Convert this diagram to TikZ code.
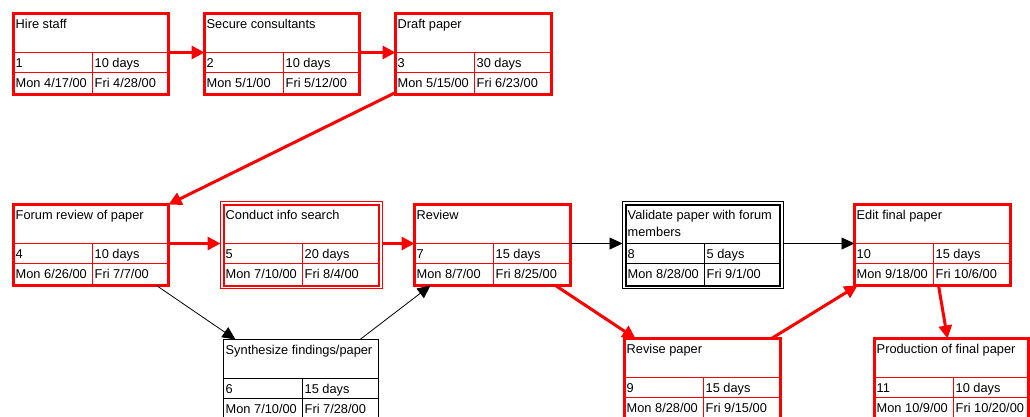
\documentclass[tikz,border=0pt]{standalone}
\usepackage{fontspec}
\setmainfont{Liberation Sans}
\usetikzlibrary{calc,arrows.meta}

\tikzset{
  crit/.style={draw=red, line width=3pt},
  critline/.style={draw=red, line width=1pt},
  critextra/.style={draw=none},
  critdbl/.style={draw=red, line width=2pt},
  critdblline/.style={draw=red, line width=1pt},
  critdblextra/.style={draw=red, line width=1pt},
  norm/.style={draw=black, line width=1pt},
  normline/.style={draw=black, line width=0.8pt},
  normextra/.style={draw=none},
  normdbl/.style={draw=black, line width=2pt},
  normdblline/.style={draw=black, line width=1pt},
  normdblextra/.style={draw=black, line width=1pt},
  txt/.style={inner sep=0pt, anchor=base west, font=\fontsize{12.8}{17}\selectfont, align=left},
  critarrow/.style={draw=red, line width=3pt, -{Triangle[length=13pt,width=13pt]}},
  normarrow/.style={draw=black, line width=0.8pt, -{Triangle[length=13pt,width=12pt]}},
}

% #1 name, #2 top-left (x,y), #3 width, #4 box style, #5 title, #6 id, #7 duration, #8 start, #9 finish
\newcommand\taskbox[9]{%
  \node[#4, minimum width=#3, minimum height=81, outer sep=0pt, inner sep=0pt, anchor=north west] (#1) at #2 {};
  \draw[#4extra] ($(#1.north west)+(-3,-3)$) rectangle ($(#1.south east)+(3,3)$);
  \coordinate (#1-l) at ($(#1.north west)+(0,39)$);
  \coordinate (#1-r) at ($(#1.north east)+(0,39)$);
  \draw[#4line] (#1-l) -- (#1-r);
  \draw[#4line] ($(#1.north west)+(0,59)$) -- ($(#1.north east)+(0,59)$);
  \draw[#4line] ($(#1.north west)+(79,39)$) -- ($(#1.south west)+(79,0)$);
  \node[txt, anchor=north west] (#1-t) at ($(#1.north west)+(2,6)$) {#5};
  \node[txt] (#1-i) at ($(#1.north west)+(2,54)$) {#6};
  \node[txt] (#1-d) at ($(#1.north west)+(81,54)$) {#7};
  \node[txt] (#1-s) at ($(#1.north west)+(2,74)$) {#8};
  \node[txt] (#1-f) at ($(#1.north west)+(81,74)$) {#9};
}

\begin{document}
\begin{tikzpicture}[x=1pt, y=-1pt]
\path[use as bounding box, clip] (0,0) rectangle (1030,417);
\fill[white] (0,0) rectangle (1030,417);

\taskbox{n1}{(13.5,13.5)}{155}{crit}{Hire staff}{1}{10 days}{Mon 4/17/00}{Fri 4/28/00}
\taskbox{n2}{(204.5,13.5)}{155}{crit}{Secure consultants}{2}{10 days}{Mon 5/1/00}{Fri 5/12/00}
\taskbox{n3}{(395.5,13.5)}{156}{crit}{Draft paper}{3}{30 days}{Mon 5/15/00}{Fri 6/23/00}

\taskbox{n4}{(13.5,204.5)}{155}{crit}{Forum review of paper}{4}{10 days}{Mon 6/26/00}{Fri 7/7/00}
\taskbox{n5}{(223.5,204.5)}{155.5}{critdbl}{Conduct info search}{5}{20 days}{Mon 7/10/00}{Fri 8/4/00}
\taskbox{n7}{(414.5,204.5)}{156}{crit}{Review}{7}{15 days}{Mon 8/7/00}{Fri 8/25/00}
\taskbox{n8}{(625.5,204.5)}{154.5}{normdbl}{Validate paper with forum\\members}{8}{5 days}{Mon 8/28/00}{Fri 9/1/00}
\taskbox{n10}{(854.5,204.5)}{156}{crit}{Edit final paper}{10}{15 days}{Mon 9/18/00}{Fri 10/6/00}

\taskbox{n6}{(223.5,339.5)}{154.5}{norm}{Synthesize findings/paper}{6}{15 days}{Mon 7/10/00}{Fri 7/28/00}
\taskbox{n9}{(624.5,338.5)}{156}{crit}{Revise paper}{9}{15 days}{Mon 8/28/00}{Fri 9/15/00}
\taskbox{n11}{(874.5,338.5)}{154}{crit}{Production of final paper}{11}{10 days}{Mon 10/9/00}{Fri 10/20/00}

\draw[critarrow] (n1-r) -- (n2-l);
\draw[critarrow] (n2-r) -- (n3-l);
\draw[critarrow] ($(n3.south west)+(0,-2)$) -- (n4.north east);
\draw[critarrow] (n4-r) -- ($(n5-l)+(-3,0)$);
\draw[critarrow] ($(n5-r)+(3,0)$) -- (n7-l);
\draw[normarrow] ($(n4.south east)+(-12,0)$) -- ($(n6.north west)+(12,0)$);
\draw[normarrow] ($(n6.north east)+(-18,0)$) -- ($(n7.south west)+(16,0)$);
\draw[normarrow] (n7-r) -- ($(n8-l)+(-3,0)$);
\draw[critarrow] ($(n7.south east)+(-15,0)$) -- ($(n9.north west)+(11,0)$);
\draw[normarrow] ($(n8-r)+(3,0)$) -- (n10-l);
\draw[critarrow] ($(n9.north east)+(-9,0)$) -- ($(n10.south west)+(3,0)$);
\draw[critarrow] ($(n10.south west)+(84,0)$) -- ($(n11.north west)+(73,0)$);
\end{tikzpicture}
\end{document}
